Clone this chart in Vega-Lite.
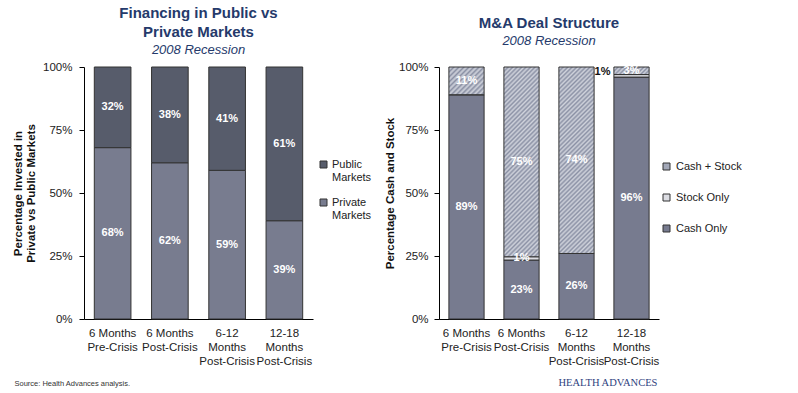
{
  "$schema": "https://vega.github.io/schema/vega-lite/v6.json",
  "padding": {"left": 12, "top": 6, "right": 0, "bottom": 0},
  "bounds": "flush",
  "spacing": 126,
  "config": {
    "font": "Liberation Sans",
    "view": {"stroke": null},
    "axis": {"domainColor": "#000", "tickColor": "#000", "labelColor": "#222", "labelFont": "Liberation Sans", "labelFontSize": 11.5, "titleFont": "Liberation Sans", "titleColor": "#111", "grid": false}
  },
  "resolve": {"scale": {"fill": "independent", "x": "independent", "y": "independent"}, "legend": {"fill": "independent"}},
  "hconcat": [
    {
      "width": 229,
      "height": 252,
      "title": {"text": ["Financing in Public vs", "Private Markets"], "subtitle": "2008 Recession", "fontSize": 15, "fontWeight": "bold", "color": "#253a6b", "subtitleColor": "#253a6b", "subtitleFont": "Liberation Sans", "subtitleFontSize": 13, "subtitleFontStyle": "italic", "lineHeight": 19, "subtitlePadding": 4, "offset": 4, "anchor": "middle"},
      "data": {"values": [
        {"period": "6 Months|Pre-Crisis", "type": "Private Markets", "v": 0.68, "k": 1},
        {"period": "6 Months|Pre-Crisis", "type": "Public Markets", "v": 0.32, "k": 2},
        {"period": "6 Months|Post-Crisis", "type": "Private Markets", "v": 0.62, "k": 1},
        {"period": "6 Months|Post-Crisis", "type": "Public Markets", "v": 0.38, "k": 2},
        {"period": "6-12|Months|Post-Crisis", "type": "Private Markets", "v": 0.59, "k": 1},
        {"period": "6-12|Months|Post-Crisis", "type": "Public Markets", "v": 0.41, "k": 2},
        {"period": "12-18|Months|Post-Crisis", "type": "Private Markets", "v": 0.39, "k": 1},
        {"period": "12-18|Months|Post-Crisis", "type": "Public Markets", "v": 0.61, "k": 2}
      ]},
      "layer": [
        {
          "mark": {"type": "bar", "stroke": "#333", "strokeWidth": 1},
          "encoding": {
            "x": {"field": "period", "type": "nominal", "sort": null, "scale": {"paddingInner": 0.36, "paddingOuter": 0.18},
              "axis": {"labelExpr": "split(datum.label, '|')", "labelAngle": 0, "ticks": false, "labelPadding": 8, "labelLineHeight": 14, "labelBaseline": "top",
                "title": "Source:  Health Advances analysis.", "titleFontSize": 7.5, "titleFontWeight": "normal", "titleColor": "#333", "titleAlign": "left", "titleAnchor": "start", "titleX": -70, "titleY": 64, "titleBaseline": "middle"}},
            "y": {"field": "v", "type": "quantitative", "stack": "zero", "scale": {"domain": [0, 1]},
              "axis": {"values": [0, 0.25, 0.5, 0.75, 1], "format": ".0%", "title": ["Percentage Invested in", "Private vs Public Markets"], "titleFontSize": 11.5, "titleFontWeight": "bold", "titlePadding": 6, "titleLineHeight": 13, "tickSize": 5, "labelPadding": 7}},
            "fill": {"field": "type", "type": "nominal", "scale": {"domain": ["Public Markets", "Private Markets"], "range": ["#575c6b", "#787c8f"]},
              "legend": {"title": null, "orient": "none", "legendX": 234, "legendY": 92, "symbolType": "square", "symbolSize": 49, "symbolStrokeColor": "#333", "symbolStrokeWidth": 1, "labelFontSize": 11, "labelColor": "#222", "labelExpr": "split(datum.label, ' ')", "labelBaseline": "middle", "labelLineHeight": 13, "rowPadding": 13, "labelOffset": 3}},
            "order": {"field": "k", "type": "quantitative"}
          }
        },
        {
          "mark": {"type": "text", "color": "white", "fontWeight": "bold", "fontSize": 11, "baseline": "middle"},
          "encoding": {
            "x": {"field": "period", "type": "nominal", "sort": null},
            "y": {"field": "v", "type": "quantitative", "stack": "zero", "bandPosition": 0.5},
            "detail": {"field": "type"},
            "order": {"field": "k", "type": "quantitative"},
            "text": {"field": "v", "type": "quantitative", "format": ".0%"}
          }
        }
      ]
    },
    {
      "width": 220,
      "height": 252,
      "title": {"text": "M&A Deal Structure", "subtitle": "2008 Recession", "fontSize": 15, "fontWeight": "bold", "color": "#253a6b", "subtitleColor": "#253a6b", "subtitleFont": "Liberation Sans", "subtitleFontSize": 13, "subtitleFontStyle": "italic", "lineHeight": 19, "subtitlePadding": 4, "offset": 13, "anchor": "middle"},
      "data": {"values": [
        {"period": "6 Months|Pre-Crisis", "type": "Cash Only", "v": 0.89, "k": 1},
        {"period": "6 Months|Pre-Crisis", "type": "Stock Only", "v": 0, "k": 2},
        {"period": "6 Months|Pre-Crisis", "type": "Cash + Stock", "v": 0.11, "k": 3},
        {"period": "6 Months|Post-Crisis", "type": "Cash Only", "v": 0.234, "k": 1},
        {"period": "6 Months|Post-Crisis", "type": "Stock Only", "v": 0.013, "k": 2},
        {"period": "6 Months|Post-Crisis", "type": "Cash + Stock", "v": 0.753, "k": 3},
        {"period": "6-12|Months|Post-Crisis", "type": "Cash Only", "v": 0.26, "k": 1},
        {"period": "6-12|Months|Post-Crisis", "type": "Stock Only", "v": 0, "k": 2},
        {"period": "6-12|Months|Post-Crisis", "type": "Cash + Stock", "v": 0.74, "k": 3},
        {"period": "12-18|Months|Post-Crisis", "type": "Cash Only", "v": 0.96, "k": 1},
        {"period": "12-18|Months|Post-Crisis", "type": "Stock Only", "v": 0.01, "k": 2},
        {"period": "12-18|Months|Post-Crisis", "type": "Cash + Stock", "v": 0.03, "k": 3}
      ]},
      "layer": [
        {
          "mark": {"type": "bar", "stroke": "#333", "strokeWidth": 1},
          "encoding": {
            "x": {"field": "period", "type": "nominal", "sort": null, "scale": {"paddingInner": 0.36, "paddingOuter": 0.18},
              "axis": {"labelExpr": "split(datum.label, '|')", "labelAngle": 0, "ticks": false, "labelPadding": 8, "labelLineHeight": 14, "labelBaseline": "top",
                "title": "HEALTH ADVANCES", "titleFont": "Liberation Serif", "titleFontSize": 10.5, "titleFontWeight": "normal", "titleColor": "#2f3f80", "titleAlign": "left", "titleAnchor": "start", "titleX": 119, "titleY": 63, "titleBaseline": "middle"}},
            "y": {"field": "v", "type": "quantitative", "stack": "zero", "scale": {"domain": [0, 1]},
              "axis": {"values": [0, 0.25, 0.5, 0.75, 1], "format": ".0%", "title": "Percentage Cash and Stock", "titleFontSize": 11.5, "titleFontWeight": "bold", "titlePadding": 3, "tickSize": 5, "labelPadding": 6}},
            "fill": {
              "condition": [
                {"test": "datum.type === 'Cash + Stock' && datum.v > 0.5", "value": {"gradient": "linear", "x1": 0, "y1": 0, "x2": 0.215, "y2": 1.147, "stops": [
                  {"offset": 0, "color": "#8b91a5"}, {"offset": 0.01, "color": "#d0d3dc"}, {"offset": 0.02, "color": "#8b91a5"}, {"offset": 0.03, "color": "#d0d3dc"}, {"offset": 0.04, "color": "#8b91a5"}, {"offset": 0.05, "color": "#d0d3dc"}, {"offset": 0.06, "color": "#8b91a5"}, {"offset": 0.07, "color": "#d0d3dc"}, {"offset": 0.08, "color": "#8b91a5"}, {"offset": 0.09, "color": "#d0d3dc"},
                  {"offset": 0.1, "color": "#8b91a5"}, {"offset": 0.11, "color": "#d0d3dc"}, {"offset": 0.12, "color": "#8b91a5"}, {"offset": 0.13, "color": "#d0d3dc"}, {"offset": 0.14, "color": "#8b91a5"}, {"offset": 0.15, "color": "#d0d3dc"}, {"offset": 0.16, "color": "#8b91a5"}, {"offset": 0.17, "color": "#d0d3dc"}, {"offset": 0.18, "color": "#8b91a5"}, {"offset": 0.19, "color": "#d0d3dc"},
                  {"offset": 0.2, "color": "#8b91a5"}, {"offset": 0.21, "color": "#d0d3dc"}, {"offset": 0.22, "color": "#8b91a5"}, {"offset": 0.23, "color": "#d0d3dc"}, {"offset": 0.24, "color": "#8b91a5"}, {"offset": 0.25, "color": "#d0d3dc"}, {"offset": 0.26, "color": "#8b91a5"}, {"offset": 0.27, "color": "#d0d3dc"}, {"offset": 0.28, "color": "#8b91a5"}, {"offset": 0.29, "color": "#d0d3dc"},
                  {"offset": 0.3, "color": "#8b91a5"}, {"offset": 0.31, "color": "#d0d3dc"}, {"offset": 0.32, "color": "#8b91a5"}, {"offset": 0.33, "color": "#d0d3dc"}, {"offset": 0.34, "color": "#8b91a5"}, {"offset": 0.35, "color": "#d0d3dc"}, {"offset": 0.36, "color": "#8b91a5"}, {"offset": 0.37, "color": "#d0d3dc"}, {"offset": 0.38, "color": "#8b91a5"}, {"offset": 0.39, "color": "#d0d3dc"},
                  {"offset": 0.4, "color": "#8b91a5"}, {"offset": 0.41, "color": "#d0d3dc"}, {"offset": 0.42, "color": "#8b91a5"}, {"offset": 0.43, "color": "#d0d3dc"}, {"offset": 0.44, "color": "#8b91a5"}, {"offset": 0.45, "color": "#d0d3dc"}, {"offset": 0.46, "color": "#8b91a5"}, {"offset": 0.47, "color": "#d0d3dc"}, {"offset": 0.48, "color": "#8b91a5"}, {"offset": 0.49, "color": "#d0d3dc"},
                  {"offset": 0.5, "color": "#8b91a5"}, {"offset": 0.51, "color": "#d0d3dc"}, {"offset": 0.52, "color": "#8b91a5"}, {"offset": 0.53, "color": "#d0d3dc"}, {"offset": 0.54, "color": "#8b91a5"}, {"offset": 0.55, "color": "#d0d3dc"}, {"offset": 0.56, "color": "#8b91a5"}, {"offset": 0.57, "color": "#d0d3dc"}, {"offset": 0.58, "color": "#8b91a5"}, {"offset": 0.59, "color": "#d0d3dc"},
                  {"offset": 0.6, "color": "#8b91a5"}, {"offset": 0.61, "color": "#d0d3dc"}, {"offset": 0.62, "color": "#8b91a5"}, {"offset": 0.63, "color": "#d0d3dc"}, {"offset": 0.64, "color": "#8b91a5"}, {"offset": 0.65, "color": "#d0d3dc"}, {"offset": 0.66, "color": "#8b91a5"}, {"offset": 0.67, "color": "#d0d3dc"}, {"offset": 0.68, "color": "#8b91a5"}, {"offset": 0.69, "color": "#d0d3dc"},
                  {"offset": 0.7, "color": "#8b91a5"}, {"offset": 0.71, "color": "#d0d3dc"}, {"offset": 0.72, "color": "#8b91a5"}, {"offset": 0.73, "color": "#d0d3dc"}, {"offset": 0.74, "color": "#8b91a5"}, {"offset": 0.75, "color": "#d0d3dc"}, {"offset": 0.76, "color": "#8b91a5"}, {"offset": 0.77, "color": "#d0d3dc"}, {"offset": 0.78, "color": "#8b91a5"}, {"offset": 0.79, "color": "#d0d3dc"},
                  {"offset": 0.8, "color": "#8b91a5"}, {"offset": 0.81, "color": "#d0d3dc"}, {"offset": 0.82, "color": "#8b91a5"}, {"offset": 0.83, "color": "#d0d3dc"}, {"offset": 0.84, "color": "#8b91a5"}, {"offset": 0.85, "color": "#d0d3dc"}, {"offset": 0.86, "color": "#8b91a5"}, {"offset": 0.87, "color": "#d0d3dc"}, {"offset": 0.88, "color": "#8b91a5"}, {"offset": 0.89, "color": "#d0d3dc"},
                  {"offset": 0.9, "color": "#8b91a5"}, {"offset": 0.91, "color": "#d0d3dc"}, {"offset": 0.92, "color": "#8b91a5"}, {"offset": 0.93, "color": "#d0d3dc"}, {"offset": 0.94, "color": "#8b91a5"}, {"offset": 0.95, "color": "#d0d3dc"}, {"offset": 0.96, "color": "#8b91a5"}, {"offset": 0.97, "color": "#d0d3dc"}, {"offset": 0.98, "color": "#8b91a5"}, {"offset": 0.99, "color": "#d0d3dc"},
                  {"offset": 1, "color": "#8b91a5"}
                ]}},
                {"test": "datum.type === 'Cash + Stock' && datum.v > 0.05 && datum.v <= 0.5", "value": {"gradient": "linear", "x1": 0, "y1": 0, "x2": 1.104, "y2": 0.869, "stops": [
                  {"offset": 0, "color": "#8b91a5"}, {"offset": 0.04, "color": "#d0d3dc"}, {"offset": 0.08, "color": "#8b91a5"}, {"offset": 0.12, "color": "#d0d3dc"}, {"offset": 0.16, "color": "#8b91a5"}, {"offset": 0.2, "color": "#d0d3dc"}, {"offset": 0.24, "color": "#8b91a5"}, {"offset": 0.28, "color": "#d0d3dc"}, {"offset": 0.32, "color": "#8b91a5"}, {"offset": 0.36, "color": "#d0d3dc"},
                  {"offset": 0.4, "color": "#8b91a5"}, {"offset": 0.44, "color": "#d0d3dc"}, {"offset": 0.48, "color": "#8b91a5"}, {"offset": 0.52, "color": "#d0d3dc"}, {"offset": 0.56, "color": "#8b91a5"}, {"offset": 0.6, "color": "#d0d3dc"}, {"offset": 0.64, "color": "#8b91a5"}, {"offset": 0.68, "color": "#d0d3dc"}, {"offset": 0.72, "color": "#8b91a5"}, {"offset": 0.76, "color": "#d0d3dc"},
                  {"offset": 0.8, "color": "#8b91a5"}, {"offset": 0.84, "color": "#d0d3dc"}, {"offset": 0.88, "color": "#8b91a5"}, {"offset": 0.92, "color": "#d0d3dc"}, {"offset": 0.96, "color": "#8b91a5"}, {"offset": 1, "color": "#d0d3dc"}
                ]}},
                {"test": "datum.type === 'Cash + Stock' && datum.v <= 0.05", "value": {"gradient": "linear", "x1": 0, "y1": 0, "x2": 1.161, "y2": 0.249, "stops": [
                  {"offset": 0, "color": "#8b91a5"}, {"offset": 0.05, "color": "#d0d3dc"}, {"offset": 0.1, "color": "#8b91a5"}, {"offset": 0.15, "color": "#d0d3dc"}, {"offset": 0.2, "color": "#8b91a5"}, {"offset": 0.25, "color": "#d0d3dc"}, {"offset": 0.3, "color": "#8b91a5"}, {"offset": 0.35, "color": "#d0d3dc"}, {"offset": 0.4, "color": "#8b91a5"}, {"offset": 0.45, "color": "#d0d3dc"},
                  {"offset": 0.5, "color": "#8b91a5"}, {"offset": 0.55, "color": "#d0d3dc"}, {"offset": 0.6, "color": "#8b91a5"}, {"offset": 0.65, "color": "#d0d3dc"}, {"offset": 0.7, "color": "#8b91a5"}, {"offset": 0.75, "color": "#d0d3dc"}, {"offset": 0.8, "color": "#8b91a5"}, {"offset": 0.85, "color": "#d0d3dc"}, {"offset": 0.9, "color": "#8b91a5"}, {"offset": 0.95, "color": "#d0d3dc"},
                  {"offset": 1, "color": "#8b91a5"}
                ]}}
              ],
              "field": "type", "type": "nominal",
              "scale": {"domain": ["Cash + Stock", "Stock Only", "Cash Only"], "range": ["#a3a8b8", "#dcdde3", "#777b8f"]},
              "legend": {"title": null, "orient": "none", "legendX": 222, "legendY": 94, "symbolType": "square", "symbolSize": 49, "symbolStrokeColor": "#333", "symbolStrokeWidth": 1, "labelFontSize": 11, "labelColor": "#222", "rowPadding": 19, "labelOffset": 4}
            },
            "order": {"field": "k", "type": "quantitative"}
          }
        },
        {
          "mark": {"type": "text", "color": "white", "fontWeight": "bold", "fontSize": 11, "baseline": "middle"},
          "encoding": {
            "x": {"field": "period", "type": "nominal", "sort": null},
            "y": {"field": "v", "type": "quantitative", "stack": "zero", "bandPosition": 0.5},
            "detail": {"field": "type"},
            "order": {"field": "k", "type": "quantitative"},
            "text": {"condition": {"test": "datum.v === 0 || (datum.type === 'Stock Only' && datum.period === '12-18|Months|Post-Crisis')", "value": ""}, "field": "v", "type": "quantitative", "format": ".0%"}
          }
        },
        {
          "mark": {"type": "text", "color": "#111", "fontWeight": "bold", "fontSize": 11, "baseline": "middle", "align": "right", "dx": -21, "dy": -4},
          "encoding": {
            "x": {"field": "period", "type": "nominal", "sort": null},
            "y": {"field": "v", "type": "quantitative", "stack": "zero", "bandPosition": 0.5},
            "detail": {"field": "type"},
            "order": {"field": "k", "type": "quantitative"},
            "text": {"condition": {"test": "datum.type === 'Stock Only' && datum.period === '12-18|Months|Post-Crisis'", "field": "v", "type": "quantitative", "format": ".0%"}, "value": ""}
          }
        }
      ]
    }
  ]
}
